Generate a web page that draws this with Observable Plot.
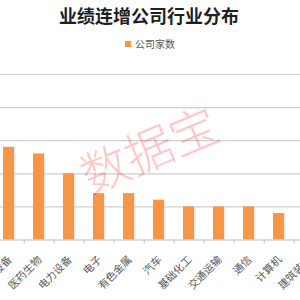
<!DOCTYPE html>
<html>
<head>
<meta charset="utf-8">
<script src="https://cdn.jsdelivr.net/npm/d3@7"></script>
<script src="https://cdn.jsdelivr.net/npm/@observablehq/plot@0.6"></script>
<style>
  html, body { margin: 0; padding: 0; overflow: hidden; background: #fff; }
  #wrap { position: relative; width: 300px; height: 300px; overflow: hidden; font-family: "Noto Sans CJK SC", sans-serif; }
  #title { position: absolute; left: 0; width: 298px; top: 3px; text-align: center; font-size: 18px; font-weight: bold; color: #1f1f1f; line-height: 24px; }
  #legend { position: absolute; left: 0; width: 300px; top: 36px; text-align: center; font-size: 10px; color: #595959; line-height: 16px; }
  #legend .sw { display: inline-block; width: 6px; height: 6px; background: #f79646; margin-right: 4px; vertical-align: 1px; }
  #chart { position: absolute; left: 0; top: 0; }
  #wm { position: absolute; left: 148px; top: 147px; transform: translate(-50%, -50%) rotate(-23deg); font-size: 48px; font-weight: 300; color: rgba(255, 40, 40, 0.26); white-space: nowrap; font-family: "Noto Sans CJK SC", sans-serif; pointer-events: none; }
</style>
</head>
<body>
<div id="wrap">
  <div id="chart"></div>
  <div id="title">业绩连增公司行业分布</div>
  <div id="legend"><span class="sw"></span>公司家数</div>
  <div id="wm">数据宝</div>
</div>
<script>
const categories = ["机械设备", "医药生物", "电力设备", "电子", "有色金属", "汽车", "基础化工", "交通运输", "通信", "计算机", "建筑装饰"];
const counts = [14, 13, 10, 7, 7, 6, 5, 5, 5, 4, 4];
const yTicks = [5, 10, 15, 20, 25];
const seriesName = "公司家数";

const data = categories.map((c, i) => ({ industry: c, count: counts[i] }));

const chart = Plot.plot({
  width: 300,
  height: 300,
  marginLeft: 0,
  marginRight: 0,
  marginTop: 74,
  marginBottom: 60.5,
  style: { fontFamily: "Noto Sans CJK SC, sans-serif", background: "transparent", overflow: "hidden" },
  x: { domain: categories, range: [-8.1, 326.3], paddingInner: 0.62, paddingOuter: 0.31, label: null },
  y: { domain: [0, 25], label: null },
  marks: [
    Plot.gridY(yTicks, { stroke: "#cfcfcf", strokeOpacity: 1, strokeWidth: 1.2 }),
    Plot.barY(data, { x: "industry", y: "count", fill: "#d9d9d9", fillOpacity: 0.6, dx: 1.5 }),
    Plot.barY(data, { x: "industry", y: "count", fill: "#f79646" }),
    Plot.ruleY([0], { stroke: "#bfbfbf", strokeWidth: 1.2 }),
    Plot.axisX({ tickSize: 4, tickFormat: () => "", dx: 15.2, stroke: "#bfbfbf", strokeWidth: 1 }),
    Plot.axisX({ tickSize: 0, tickPadding: 8, tickRotate: -45, fontSize: 10.5, fill: "#595959", dx: 1, dy: 10 }),
    Plot.axisY({ ticks: [], label: null })
  ]
});
document.getElementById("chart").appendChild(chart);
</script>
</body>
</html>
